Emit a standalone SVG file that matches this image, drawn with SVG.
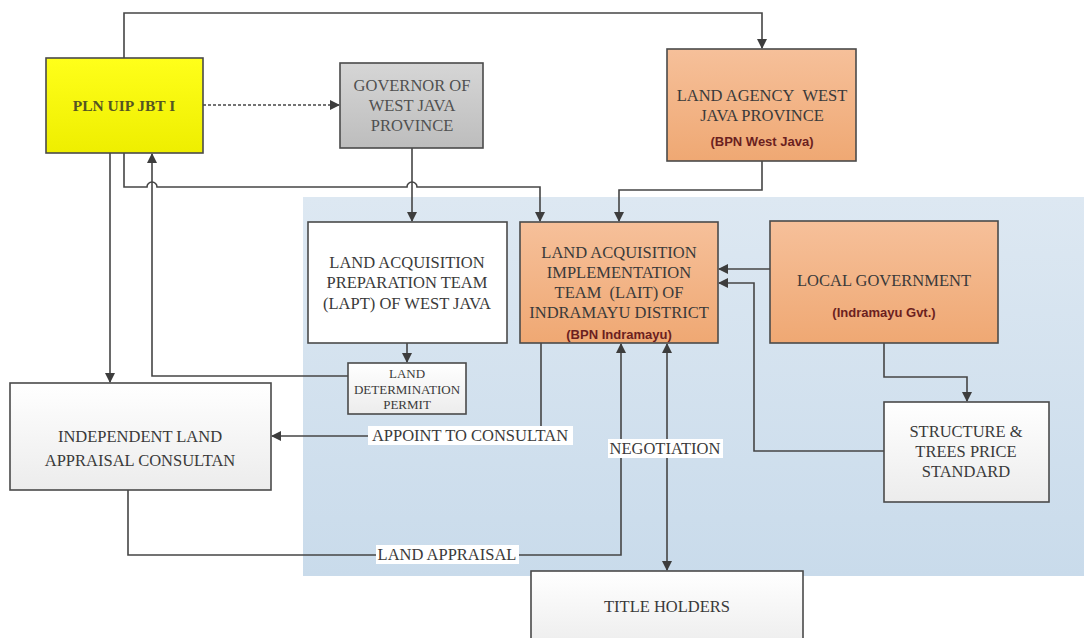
<svg xmlns="http://www.w3.org/2000/svg" width="1084" height="638" viewBox="0 0 1084 638">
<style>
.t{font-family:"Liberation Serif","Times New Roman",serif;fill:#3a3a3a;text-anchor:middle;font-size:16.5px}
.s{font-family:"Liberation Sans",Arial,sans-serif;fill:#6b1f1f;font-weight:bold;text-anchor:middle;font-size:13px}
.box{stroke:#4a4a4a;stroke-width:1.6}
.ln{fill:none;stroke:#454545;stroke-width:1.6}
.lb{fill:#fff}
</style>
<defs>
<linearGradient id="gO" x1="0" y1="0" x2="0" y2="1"><stop offset="0" stop-color="#f6c09a"/><stop offset="1" stop-color="#efa873"/></linearGradient>
<linearGradient id="gY" x1="0" y1="0" x2="0" y2="1"><stop offset="0" stop-color="#ffff1a"/><stop offset="1" stop-color="#eeee00"/></linearGradient>
<linearGradient id="gG" x1="0" y1="0" x2="0" y2="1"><stop offset="0" stop-color="#d6d6d6"/><stop offset="1" stop-color="#bdbdbd"/></linearGradient>
<linearGradient id="gW" x1="0" y1="0" x2="0" y2="1"><stop offset="0" stop-color="#ffffff"/><stop offset="1" stop-color="#ececec"/></linearGradient>
<linearGradient id="gB" x1="0" y1="0" x2="0" y2="1"><stop offset="0" stop-color="#dde8f2"/><stop offset="1" stop-color="#c9dbeb"/></linearGradient>
<marker id="a" markerWidth="10" markerHeight="10" refX="9" refY="5" orient="auto" markerUnits="userSpaceOnUse"><path d="M0,0 L10,5 L0,10 Z" fill="#3d3d3d"/></marker>
<marker id="as" markerWidth="10" markerHeight="10" refX="1" refY="5" orient="auto" markerUnits="userSpaceOnUse"><path d="M10,0 L0,5 L10,10 Z" fill="#3d3d3d"/></marker>
</defs>
<rect id="region" x="303" y="197" width="781" height="379" fill="url(#gB)"/>
<g id="connectors">
<path class="ln" d="M124,58 V13 H762 V48" marker-end="url(#a)"/>
<path class="ln" d="M203,105 H339" stroke-dasharray="3,2" marker-end="url(#a)"/>
<path class="ln" d="M412,148 V221" marker-end="url(#a)"/>
<path class="ln" d="M124,153 V187 H147 a5,5 0 0 1 10,0 H407 a5,5 0 0 1 10,0 H540 V221" marker-end="url(#a)"/>
<path class="ln" d="M762,161 V190 H619 V221" marker-end="url(#a)"/>
<path class="ln" d="M407,343 V362" marker-end="url(#a)"/>
<path class="ln" d="M348,376 H152 V154" marker-end="url(#a)"/>
<path class="ln" d="M110,153 V382" marker-end="url(#a)"/>
<path class="ln" d="M541,343 V436 H272" marker-end="url(#a)"/>
<path class="ln" d="M128,490 V555 H621 V344" marker-end="url(#a)"/>
<path class="ln" d="M667,344 V570" marker-start="url(#as)" marker-end="url(#a)"/>
<path class="ln" d="M770,269 H719" marker-end="url(#a)"/>
<path class="ln" d="M884,451 H754 V283 H719" marker-end="url(#a)"/>
<path class="ln" d="M884,343 V377 H967 V401" marker-end="url(#a)"/>
<rect class="lb" x="368" y="426" width="205" height="19"/>
<text class="t" x="470" y="441">APPOINT TO CONSULTAN</text>
<rect class="lb" x="376" y="545" width="143" height="19"/>
<text class="t" x="447" y="560">LAND APPRAISAL</text>
<rect class="lb" x="608" y="439" width="115" height="19"/>
<text class="t" x="665" y="454">NEGOTIATION</text>
</g>
<g id="pln">
<rect class="box" x="46" y="58" width="157" height="95" fill="url(#gY)"/>
<text class="t" x="124" y="111" style="font-weight:bold;fill:#555522;font-size:15.5px">PLN UIP JBT I</text>
</g>
<g id="governor">
<rect class="box" x="340" y="63" width="143" height="85" fill="url(#gG)"/>
<text class="t" x="412" y="91" style="fill:#505050">GOVERNOR OF</text>
<text class="t" x="412" y="111" style="fill:#505050">WEST JAVA</text>
<text class="t" x="412" y="131" style="fill:#505050">PROVINCE</text>
</g>
<g id="land-agency">
<rect class="box" x="667" y="49" width="189" height="112" fill="url(#gO)"/>
<text class="t" x="762" y="101">LAND AGENCY&#160; WEST</text>
<text class="t" x="762" y="121">JAVA PROVINCE</text>
<text class="s" x="762" y="146">(BPN West Java)</text>
</g>
<g id="lapt">
<rect class="box" x="308" y="222" width="199" height="121" fill="#fff"/>
<text class="t" x="407" y="268">LAND ACQUISITION</text>
<text class="t" x="407" y="288">PREPARATION TEAM</text>
<text class="t" x="407" y="309">(LAPT) OF WEST JAVA</text>
</g>
<g id="lait">
<rect class="box" x="520" y="222" width="198" height="121" fill="url(#gO)"/>
<text class="t" x="619" y="258">LAND ACQUISITION</text>
<text class="t" x="619" y="278">IMPLEMENTATION</text>
<text class="t" x="619" y="298">TEAM&#160; (LAIT) OF</text>
<text class="t" x="619" y="318">INDRAMAYU DISTRICT</text>
<text class="s" x="619" y="339">(BPN Indramayu)</text>
</g>
<g id="local-gov">
<rect class="box" x="770" y="221" width="228" height="122" fill="url(#gO)"/>
<text class="t" x="884" y="286">LOCAL GOVERNMENT</text>
<text class="s" x="884" y="317">(Indramayu Gvt.)</text>
</g>
<g id="permit">
<rect class="box" x="348" y="363" width="118" height="51" fill="url(#gW)"/>
<text class="t" x="407" y="378" style="font-size:13px">LAND</text>
<text class="t" x="407" y="394" style="font-size:13px">DETERMINATION</text>
<text class="t" x="407" y="409" style="font-size:13px">PERMIT</text>
</g>
<g id="independent">
<rect class="box" x="10" y="383" width="261" height="107" fill="url(#gW)"/>
<text class="t" x="140" y="442">INDEPENDENT LAND</text>
<text class="t" x="140" y="466">APPRAISAL CONSULTAN</text>
</g>
<g id="structure">
<rect class="box" x="884" y="402" width="165" height="100" fill="url(#gW)"/>
<text class="t" x="966" y="437">STRUCTURE &amp;</text>
<text class="t" x="966" y="457">TREES PRICE</text>
<text class="t" x="966" y="477">STANDARD</text>
</g>
<g id="title-holders">
<rect class="box" x="531" y="571" width="272" height="80" fill="url(#gW)"/>
<text class="t" x="667" y="612">TITLE HOLDERS</text>
</g>
</svg>
